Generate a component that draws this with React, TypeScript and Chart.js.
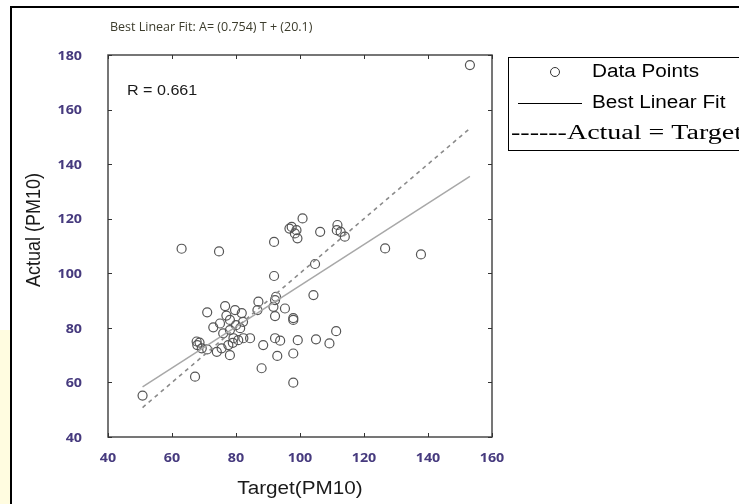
import { useEffect, useRef } from 'react';
import { Chart, registerables } from 'chart.js';

Chart.register(...registerables);

// ---- data ----
const targetPM10 = [
  50.8, 67.2, 63.0, 74.7, 71.0,
  67.7, 67.9, 68.6, 69.3, 71.0, 74.0, 75.5,
  72.9, 75.0, 76.6, 78.1, 79.7, 81.8,
  76.0, 78.1, 81.3, 82.2, 79.2, 80.7, 82.3, 84.4, 77.6, 78.1, 77.0, 80.0, 79.0,
  87.0, 86.7, 88.5, 88.0,
  91.9, 91.9, 92.5, 92.2, 91.7, 92.2, 95.3, 97.9, 97.9, 92.2, 93.8, 99.3, 92.9, 97.9, 97.9,
  96.7, 97.4, 98.9, 98.4, 99.2, 100.8,
  104.2, 104.7, 105.0, 106.3, 109.2, 111.3, 111.7, 111.5, 112.7, 114.0,
  126.6, 137.8, 153.1,
];
const actualPM10 = [
  55.2, 62.1, 109.0, 108.0, 85.7,
  75.0, 73.7, 74.6, 72.5, 72.1, 71.2, 72.5,
  80.2, 81.6, 88.0, 82.9, 86.5, 85.4,
  78.0, 79.2, 79.9, 82.2, 76.2, 75.5, 76.2, 76.2, 73.7, 70.0, 84.5, 81.0, 74.5,
  89.6, 86.5, 73.7, 65.2,
  111.5, 99.0, 91.4, 90.2, 87.7, 84.3, 87.1, 82.9, 83.6, 76.2, 75.3, 75.5, 69.7, 70.6, 59.9,
  116.4, 117.0, 115.8, 114.6, 112.8, 120.1,
  92.0, 103.4, 75.8, 115.2, 74.3, 78.8, 117.7, 115.8, 115.2, 113.4,
  109.1, 106.9, 176.3,
];
const fitTarget = [50.8, 153.1];
const fitActual = [58.4, 135.5];
const refTarget = [50.8, 153.1];
const refActual = [50.8, 153.1];
const xTickValues = [40, 60, 80, 100, 120, 140, 160];
const yTickValues = [40, 60, 80, 100, 120, 140, 160, 180];

const titleText = 'Best Linear Fit: A= (0.754) T + (20.1)';
const rText = 'R = 0.661';
const legendLabels = ['Data Points', 'Best Linear Fit', '------Actual = Target'];
const xTitle = 'Target(PM10)';
const yTitle = 'Actual (PM10)';

const SX = 1.15; // horizontal text stretch of the original rendering

function drawText(
  ctx: CanvasRenderingContext2D,
  text: string,
  x: number,
  y: number,
  font: string,
  color: string,
  align: 'left' | 'center' | 'right',
  sx: number = SX
) {
  ctx.save();
  ctx.font = font;
  ctx.fillStyle = color;
  ctx.textBaseline = 'middle';
  ctx.textAlign = 'left';
  const w = ctx.measureText(text).width * sx;
  const left = align === 'left' ? x : align === 'center' ? x - w / 2 : x - w;
  ctx.translate(left, y);
  ctx.scale(sx, 1);
  ctx.fillText(text, 0, 0);
  ctx.restore();
}

const decorPlugin = {
  id: 'decor',
  afterDraw(chart: any) {
    const ctx: CanvasRenderingContext2D = chart.ctx;
    const a = chart.chartArea;
    const xs = chart.scales.x;
    const ys = chart.scales.y;

    // plot box
    ctx.save();
    ctx.strokeStyle = '#4a4a4a';
    ctx.lineWidth = 1.5;
    ctx.strokeRect(a.left, a.top, a.right - a.left, a.bottom - a.top);

    // inward ticks on all four sides
    ctx.lineWidth = 1;
    ctx.strokeStyle = '#333';
    ctx.beginPath();
    xs.ticks.forEach((t: any) => {
      const px = Math.round(xs.getPixelForValue(t.value)) + 0.5;
      ctx.moveTo(px, a.bottom);
      ctx.lineTo(px, a.bottom - 4);
      ctx.moveTo(px, a.top);
      ctx.lineTo(px, a.top + 4);
    });
    ys.ticks.forEach((t: any) => {
      const py = Math.round(ys.getPixelForValue(t.value)) + 0.5;
      ctx.moveTo(a.left, py);
      ctx.lineTo(a.left + 4, py);
      ctx.moveTo(a.right, py);
      ctx.lineTo(a.right - 4, py);
    });
    ctx.stroke();
    ctx.restore();

    // tick labels
    const tickFont = "bold 13px 'Open Sans'";
    const tickColor = '#463a7e';
    xs.ticks.forEach((t: any) => {
      const px = xs.getPixelForValue(t.value);
      drawText(ctx, String(t.value), px, a.bottom + 21, tickFont, tickColor, 'center', 1.1);
    });
    ys.ticks.forEach((t: any) => {
      const py = ys.getPixelForValue(t.value);
      drawText(ctx, String(t.value), a.left - 26, py + 1, tickFont, tickColor, 'right', 1.1);
    });

    // axis titles
    drawText(ctx, xTitle, (a.left + a.right) / 2, 489, "18px 'Liberation Sans'", '#1a1a1a', 'center');
    ctx.save();
    ctx.translate(34, 230);
    ctx.rotate(-Math.PI / 2);
    ctx.scale(1, SX);
    ctx.font = "18px 'Liberation Sans'";
    ctx.fillStyle = '#1a1a1a';
    ctx.textAlign = 'center';
    ctx.textBaseline = 'middle';
    ctx.fillText(yTitle, 0, 0);
    ctx.restore();

    // title
    drawText(ctx, titleText, 110, 27, "12.5px 'Open Sans'", '#3c3c2c', 'left', 1.0);

    // R value
    drawText(ctx, rText, a.left + 19, 91, "14px 'Liberation Sans'", '#1a1a1a', 'left');

    // legend
    ctx.save();
    ctx.strokeStyle = '#000';
    ctx.lineWidth = 1;
    ctx.strokeRect(508.5, 57.5, 400, 93);
    ctx.beginPath();
    ctx.arc(555, 72, 4.5, 0, Math.PI * 2);
    ctx.strokeStyle = '#333';
    ctx.stroke();
    ctx.beginPath();
    ctx.strokeStyle = '#000';
    ctx.moveTo(518, 103.5);
    ctx.lineTo(582, 103.5);
    ctx.stroke();
    ctx.restore();
    drawText(ctx, legendLabels[0], 592, 72, "18px 'Liberation Sans'", '#000', 'left');
    drawText(ctx, legendLabels[1], 592, 103, "18px 'Liberation Sans'", '#000', 'left');
    drawText(ctx, legendLabels[2], 511, 134, "20px 'Liberation Serif'", '#000', 'left', 1.4);
  },
};

export default function App() {
  const canvasRef = useRef<HTMLCanvasElement | null>(null);

  useEffect(() => {
    if (!canvasRef.current) return;
    const points = targetPM10.map((t, i) => ({ x: t, y: actualPM10[i] }));
    const fit = fitTarget.map((t, i) => ({ x: t, y: fitActual[i] }));
    const ref = refTarget.map((t, i) => ({ x: t, y: refActual[i] }));

    const chart = new Chart(canvasRef.current, {
      type: 'scatter',
      data: {
        datasets: [
          {
            type: 'line',
            label: legendLabels[2],
            data: ref,
            borderColor: '#8a8a8a',
            borderWidth: 1.6,
            borderDash: [4, 4],
            pointRadius: 0,
            fill: false,
          } as any,
          {
            type: 'line',
            label: legendLabels[1],
            data: fit,
            borderColor: '#a8a8a8',
            borderWidth: 1.5,
            pointRadius: 0,
            fill: false,
          } as any,
          {
            label: legendLabels[0],
            data: points,
            pointStyle: 'circle',
            pointRadius: 4.5,
            borderWidth: 1.2,
            borderColor: '#555',
            backgroundColor: 'rgba(0,0,0,0)',
          },
        ],
      },
      options: {
        animation: false,
        responsive: false,
        devicePixelRatio: 1,
        layout: { padding: { left: 0, top: 55, right: 247, bottom: 0 } },
        plugins: {
          legend: { display: false },
          title: { display: false },
          tooltip: { enabled: false },
        },
        scales: {
          x: {
            type: 'linear',
            min: 40,
            max: 160,
            afterBuildTicks: (s: any) => {
              s.ticks = xTickValues.map((v) => ({ value: v }));
            },
            afterFit: (s: any) => {
              s.height = 67;
            },
            grid: { display: false, drawTicks: false },
            border: { display: false },
            ticks: { display: false },
          },
          y: {
            type: 'linear',
            min: 40,
            max: 180,
            afterBuildTicks: (s: any) => {
              s.ticks = yTickValues.map((v) => ({ value: v }));
            },
            afterFit: (s: any) => {
              s.width = 108;
            },
            grid: { display: false, drawTicks: false },
            border: { display: false },
            ticks: { display: false },
          },
        },
      },
      plugins: [decorPlugin],
    });
    return () => chart.destroy();
  }, []);

  return (
    <div
      style={{
        position: 'fixed',
        left: 0,
        top: 0,
        width: 739,
        height: 504,
        background: '#fff',
        overflow: 'hidden',
      }}
    >
      <div
        style={{
          position: 'absolute',
          left: 0,
          top: 330,
          width: 10,
          height: 174,
          background: '#fffce0',
        }}
      />
      <div
        style={{
          position: 'absolute',
          left: 10,
          top: 6,
          width: 900,
          height: 700,
          border: '2px solid #000',
        }}
      />
      <canvas
        ref={canvasRef}
        width={739}
        height={504}
        style={{ position: 'absolute', left: 0, top: 0, width: 739, height: 504 }}
      />
    </div>
  );
}
